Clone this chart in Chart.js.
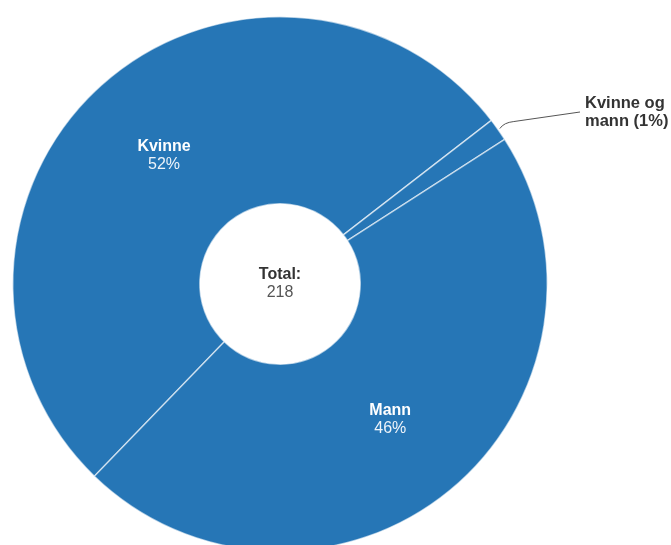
<!DOCTYPE html>
<html>
<head>
<meta charset="utf-8">
<script src="https://cdn.jsdelivr.net/npm/chart.js@4.4.1/dist/chart.umd.min.js"></script>
<style>
    html, body { margin: 0; padding: 0; background: #fff; overflow: hidden; }
    #wrap { width: 671px; height: 560px; position: relative; }
</style>
</head>
<body>
<div id="wrap"><canvas id="kjonnChart"></canvas></div>
<script>
const kategorier = ["Kvinne", "Kvinne og mann", "Mann"];
const antall = [114, 3, 101];
const prosent = ["52%", "1%", "46%"];
const totalTekst = ["Total:", "218"];
const utenforLinjer = ["Kvinne og", "mann (1%)"];

const blaa = "#2676b6";
const font = "'Liberation Sans', Arial, sans-serif";

// tekst midt i ringen
const sentrumTekst = {
    id: "sentrumTekst",
    afterDatasetsDraw(chart) {
        const arc = chart.getDatasetMeta(0).data[0];
        const ctx = chart.ctx;
        ctx.save();
        ctx.textAlign = "center";
        ctx.textBaseline = "middle";
        ctx.fillStyle = "#333";
        ctx.font = "bold 16px " + font;
        ctx.fillText(totalTekst[0], arc.x, arc.y - 9);
        ctx.fillStyle = "#555";
        ctx.font = "16px " + font;
        ctx.fillText(totalTekst[1], arc.x, arc.y + 9);
        ctx.restore();
    }
};

// etiketter i segmentene, og ute med strek for de små
const segmentTekst = {
    id: "segmentTekst",
    afterDatasetsDraw(chart) {
        const meta = chart.getDatasetMeta(0);
        const ctx = chart.ctx;
        ctx.save();
        meta.data.forEach((arc, i) => {
            const andel = antall[i] / antall.reduce((a, b) => a + b, 0);
            if (andel > 0.05) {
                const p = arc.getCenterPoint();
                ctx.textAlign = "center";
                ctx.textBaseline = "middle";
                ctx.fillStyle = "#fff";
                ctx.font = "bold 16px " + font;
                ctx.fillText(kategorier[i], p.x, p.y - 8);
                ctx.fillStyle = "#eef4fa";
                ctx.font = "16px " + font;
                ctx.fillText(prosent[i], p.x, p.y + 10);
            } else {
                const mid = (arc.startAngle + arc.endAngle) / 2;
                const r = arc.outerRadius + 2;
                const sx = arc.x + Math.cos(mid) * r;
                const sy = arc.y + Math.sin(mid) * r;
                const ex = 580, ey = 112;
                ctx.strokeStyle = "#555";
                ctx.lineWidth = 1;
                ctx.beginPath();
                ctx.moveTo(sx, sy);
                ctx.quadraticCurveTo(sx + 4, sy - 6, sx + 14, sy - 7);
                ctx.lineTo(ex, ey);
                ctx.stroke();
                ctx.textAlign = "left";
                ctx.textBaseline = "middle";
                ctx.fillStyle = "#333";
                ctx.font = "bold 16.5px " + font;
                ctx.fillText(utenforLinjer[0], ex + 5, ey - 9);
                ctx.fillText(utenforLinjer[1], ex + 5, ey + 9);
            }
        });
        ctx.restore();
    }
};

new Chart(document.getElementById("kjonnChart"), {
    type: "doughnut",
    data: {
        labels: kategorier,
        datasets: [{
            data: antall,
            backgroundColor: blaa,
            borderColor: "rgba(255,255,255,0.6)",
            borderWidth: 1.5,
            hoverOffset: 0
        }]
    },
    options: {
        responsive: true,
        maintainAspectRatio: false,
        animation: false,
        cutout: "30%",
        rotation: 224,
        layout: { padding: { top: 16, bottom: 8, left: 12, right: 123 } },
        plugins: {
            legend: { display: false },
            tooltip: { enabled: false }
        }
    },
    plugins: [sentrumTekst, segmentTekst]
});
</script>
</body>
</html>
